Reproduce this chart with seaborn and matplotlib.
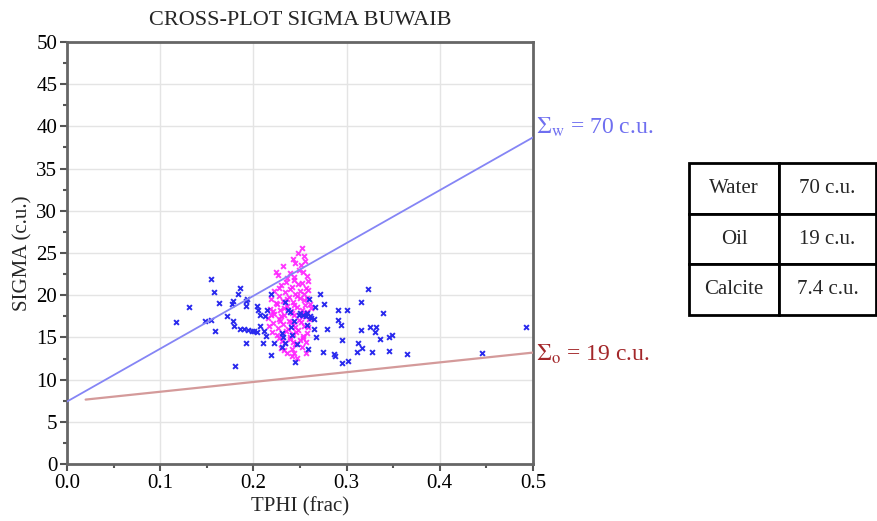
import matplotlib
matplotlib.use("Agg")
import matplotlib.pyplot as plt
import matplotlib.ticker as mticker
import numpy as np
import pandas as pd
import seaborn as sns

# matrix / fluid sigma values (c.u.)
SIG_WATER = 70.0
SIG_OIL = 19.0
SIG_CALCITE = 7.4

table_labels = ["Water", "Oil", "Calcite"]
table_values = ["70 c.u.", "19 c.u.", "7.4 c.u."]

phi_water_line = [0.0, 0.5]
phi_oil_line = [0.02, 0.5]

# blue points (TPHI, SIGMA)
blue_phi = [0.117, 0.131, 0.1545, 0.158, 0.163, 0.148, 0.1545, 0.159, 0.172, 0.178,
            0.179, 0.178, 0.177, 0.183, 0.186, 0.192, 0.193, 0.192, 0.180, 0.192,
            0.186, 0.190, 0.194, 0.198, 0.201, 0.204, 0.204, 0.205, 0.2146, 0.212,
            0.207, 0.211, 0.214, 0.210, 0.219, 0.222, 0.2186, 0.231, 0.234, 0.232,
            0.245, 0.247, 0.259, 0.258, 0.265, 0.267, 0.279, 0.275, 0.286, 0.2875,
            0.295, 0.301, 0.295, 0.291, 0.294, 0.291, 0.300, 0.271, 0.276, 0.266,
            0.260, 0.250, 0.261, 0.257, 0.315, 0.315, 0.323, 0.325, 0.332, 0.339,
            0.331, 0.336, 0.345, 0.349, 0.3125, 0.317, 0.311, 0.327, 0.345, 0.365,
            0.4456, 0.4925, 0.234, 0.237, 0.253, 0.256, 0.262, 0.265, 0.244, 0.240,
            0.207, 0.231, 0.241, 0.239, 0.249]
blue_sig = [16.8, 18.6, 21.9, 20.4, 19.1, 17.0, 17.1, 15.7, 17.5, 17.0,
            16.4, 19.3, 19.0, 20.2, 20.9, 19.3, 19.6, 18.7, 11.6, 14.3,
            16.0, 15.95, 15.9, 15.8, 15.7, 15.6, 18.7, 18.2, 18.2, 17.5,
            16.3, 15.7, 15.2, 14.3, 12.9, 14.3, 20.1, 13.9, 14.3, 15.1,
            12.1, 14.2, 13.6, 16.5, 16.0, 15.1, 16.0, 13.3, 13.0, 12.8,
            12.0, 12.2, 14.7, 17.1, 16.5, 18.3, 18.3, 20.1, 19.0, 18.6,
            19.5, 17.9, 17.5, 17.9, 15.9, 19.2, 20.7, 16.2, 16.2, 17.9,
            15.6, 14.8, 15.0, 15.3, 14.3, 13.8, 13.3, 13.3, 13.4, 13.0,
            13.2, 16.2, 19.2, 18.2, 17.7, 17.5, 17.3, 17.2, 17.0, 16.2,
            17.7, 15.5, 15.3, 18.0, 17.6]

# magenta points (TPHI, SIGMA)
mag_phi = [0.252, 0.248, 0.254,
           0.243, 0.245, 0.251, 0.232, 0.255,
           0.224, 0.226, 0.239, 0.249, 0.257, 0.236, 0.244, 0.253,
           0.244, 0.252, 0.230, 0.241, 0.248, 0.256, 0.235, 0.259,
           0.222, 0.234, 0.245, 0.259, 0.228, 0.239, 0.250, 0.254,
           0.228, 0.238, 0.250, 0.219, 0.232, 0.243, 0.254, 0.261, 0.224, 0.236, 0.247, 0.258,
           0.225, 0.236, 0.247, 0.218, 0.229, 0.240, 0.252, 0.258, 0.221, 0.233, 0.244, 0.255, 0.262,
           0.222, 0.233, 0.244, 0.255, 0.216, 0.227, 0.238, 0.249, 0.260, 0.230, 0.241, 0.252, 0.219,
           0.221, 0.232, 0.243, 0.254, 0.226, 0.237, 0.248, 0.259, 0.229, 0.240, 0.251, 0.245, 0.217,
           0.220, 0.231, 0.242, 0.253, 0.235, 0.246, 0.257, 0.225, 0.239,
           0.228, 0.239, 0.250, 0.234, 0.245, 0.256, 0.231, 0.242, 0.253,
           0.230, 0.241, 0.252, 0.236, 0.247, 0.256, 0.244, 0.233, 0.241]
mag_sig = [25.6, 25.0, 24.7,
           24.3, 23.8, 23.6, 23.5, 24.1,
           22.7, 22.4, 22.6, 23.0, 22.3, 22.0, 22.2, 22.8,
           21.8, 21.5, 21.2, 21.0, 21.3, 20.9, 21.6, 21.7,
           20.5, 20.4, 20.2, 20.6, 20.8, 20.7, 20.5, 20.1,
           19.9, 19.8, 19.7, 19.5, 19.3, 19.2, 19.4, 19.0, 19.1, 19.6, 19.9, 19.7,
           18.9, 18.7, 18.6, 18.4, 18.3, 18.1, 18.2, 18.0, 18.1, 18.5, 18.8, 18.8, 18.5,
           17.8, 17.7, 17.6, 17.5, 17.3, 17.2, 17.0, 17.1, 17.2, 17.5, 17.9, 17.8, 17.6,
           16.7, 16.6, 16.5, 16.4, 16.1, 16.0, 15.9, 16.2, 16.9, 16.8, 16.8, 16.2, 16.3,
           15.6, 15.5, 15.4, 15.2, 15.8, 15.6, 15.5, 15.3, 15.1,
           14.9, 14.8, 14.7, 14.3, 14.2, 14.4, 14.6, 14.5, 14.9,
           13.8, 13.6, 13.9, 13.1, 12.6, 13.2, 13.2, 13.5, 12.8]

blue_df = pd.DataFrame({"TPHI": blue_phi, "SIGMA": blue_sig})
mag_df = pd.DataFrame({"TPHI": mag_phi, "SIGMA": mag_sig})

phi_w = np.array(phi_water_line)
water_df = pd.DataFrame({"TPHI": phi_w, "SIGMA": (1 - phi_w) * SIG_CALCITE + phi_w * SIG_WATER})
phi_o = np.array(phi_oil_line)
oil_df = pd.DataFrame({"TPHI": phi_o, "SIGMA": (1 - phi_o) * SIG_CALCITE + phi_o * SIG_OIL})

sns.set_theme(style="whitegrid")
plt.rcParams["font.family"] = ["Liberation Serif", "DejaVu Serif"]
plt.rcParams["mathtext.fontset"] = "stix"

fig = plt.figure(figsize=(8.77, 5.21), dpi=100)
ax = fig.add_axes([67 / 877, 57 / 521, 466 / 877, 422 / 521])

sns.scatterplot(data=mag_df, x="TPHI", y="SIGMA", ax=ax, marker="x", s=12,
                color="#ff22ff", linewidth=1.4, alpha=0.9, zorder=3)
sns.scatterplot(data=blue_df, x="TPHI", y="SIGMA", ax=ax, marker="x", s=12,
                color="#2a2aee", linewidth=1.4, zorder=4)
sns.lineplot(data=water_df, x="TPHI", y="SIGMA", ax=ax, color="#8585f5", linewidth=1.3, zorder=5)
sns.lineplot(data=oil_df, x="TPHI", y="SIGMA", ax=ax, color="#d49a9a", linewidth=1.6, zorder=5)

ax.set_xlim(0, 0.5)
ax.set_ylim(0, 50)
ax.xaxis.set_major_locator(mticker.MultipleLocator(0.1))
ax.xaxis.set_minor_locator(mticker.MultipleLocator(0.05))
ax.yaxis.set_major_locator(mticker.MultipleLocator(5))
ax.yaxis.set_minor_locator(mticker.MultipleLocator(2.5))
ax.xaxis.set_major_formatter(mticker.FormatStrFormatter("%.1f"))
ax.grid(True, which="major", color="#e4e4e4", linewidth=1)
ax.grid(False, which="minor")
ax.tick_params(which="major", direction="out", length=5, width=1.5, color="#555555",
               labelsize=15, labelcolor="black", bottom=True, left=True, pad=2)
ax.tick_params(which="minor", direction="out", length=3, width=1.5, color="#555555",
               bottom=True, left=True)
for side in ["left", "bottom", "top", "right"]:
    ax.spines[side].set_color("#666666")
    ax.spines[side].set_linewidth(2)
    ax.spines[side].set_visible(True)

ax.set_xlabel("TPHI (frac)", fontsize=15, labelpad=3)
ax.set_ylabel("SIGMA (c.u.)", fontsize=15, labelpad=3)
ax.set_title("CROSS-PLOT SIGMA BUWAIB", fontsize=16, pad=12)

fig.text(536 / 877, 1 - 127 / 521, r"$\Sigma_{\rm w}$ = 70 c.u.", color="#6f6ff0",
         fontsize=17, va="center", ha="left")
fig.text(536 / 877, 1 - 354 / 521, r"$\Sigma_{\rm o}$ = 19 c.u.", color="#a3272a",
         fontsize=17, va="center", ha="left")

# property table
tax = fig.add_axes([689 / 877, 206 / 521, 187 / 877, 152 / 521])
tax.axis("off")
cells = [[lab, val] for lab, val in zip(table_labels, table_values)]
tbl = tax.table(cellText=cells, cellLoc="center", bbox=[0, 0, 1, 1],
                colWidths=[90 / 187, 97 / 187])
tbl.auto_set_font_size(False)
tbl.set_fontsize(15)
for cell in tbl.get_celld().values():
    cell.set_linewidth(2)
    cell.set_edgecolor("black")

fig.savefig("out.png", dpi=100)
